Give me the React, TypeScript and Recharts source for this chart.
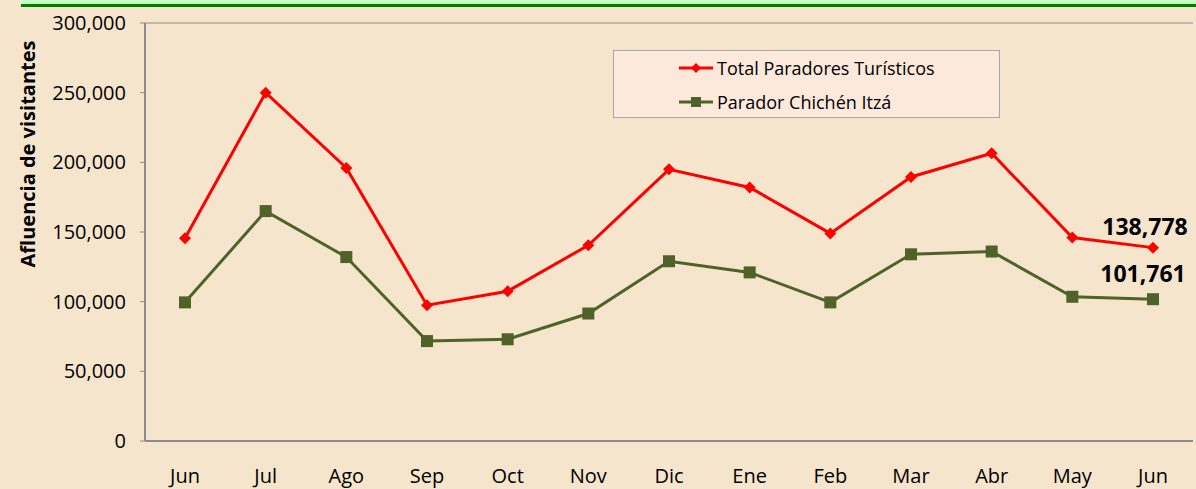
import React from 'react';
import { LineChart, Line, XAxis, YAxis, CartesianGrid, Legend, LabelList } from 'recharts';

const months = ['Jun', 'Jul', 'Ago', 'Sep', 'Oct', 'Nov', 'Dic', 'Ene', 'Feb', 'Mar', 'Abr', 'May', 'Jun'];
const totalParadores = [145500, 250000, 196000, 97500, 107500, 140500, 195000, 182000, 149000, 189500, 206500, 146000, 138778];
const chichenItza = [99500, 165000, 132000, 71700, 73000, 91500, 129000, 121000, 99500, 134000, 136000, 103500, 101761];
const yTicks = [0, 50000, 100000, 150000, 200000, 250000, 300000];
const seriesNames = ['Total Paradores Turísticos', 'Parador Chichén Itzá'];
const yAxisTitle = 'Afluencia de visitantes';

const data = months.map((m, i) => ({ month: m, total: totalParadores[i], chichen: chichenItza[i] }));

const FONT = "'Open Sans', 'Noto Sans', sans-serif";
const RED = '#ff0000';
const GREEN = '#4f6228';

const Diamond = (props: any) => {
  const { cx, cy } = props;
  if (cx == null || cy == null) return null;
  return <polygon points={`${cx},${cy - 6} ${cx + 6},${cy} ${cx},${cy + 6} ${cx - 6},${cy}`} fill={RED} />;
};

const Square = (props: any) => {
  const { cx, cy } = props;
  if (cx == null || cy == null) return null;
  return <rect x={cx - 6} y={cy - 6} width={12} height={12} fill={GREEN} />;
};

const fmt = (v: number) => v.toLocaleString('en-US');

const makeLastLabel = (dx: number, dy: number) => (props: any) => {
  const { x, y, value, index } = props;
  if (index !== data.length - 1) return null;
  return (
    <text x={x + dx} y={y + dy} textAnchor="middle" fontSize={23} fontWeight="bold" fill="#000" fontFamily={FONT}>
      {fmt(value)}
    </text>
  );
};

const YTitle = () => {
  const x = 27;
  const y = 154;
  return (
    <text x={x} y={y} transform={`rotate(-90 ${x} ${y})`} textAnchor="middle" dominantBaseline="central" fontSize={20} fontWeight="bold" fill="#000" fontFamily={FONT}>
      {yAxisTitle}
    </text>
  );
};

const renderLegend = (props: any) => {
  const payload = [...(props.payload || [])].sort(
    (a: any, b: any) => seriesNames.indexOf(a.value) - seriesNames.indexOf(b.value)
  );
  return (
    <div
      style={{
        width: 387,
        height: 68,
        background: '#fde9dc',
        border: '1px solid #a6a6a6',
        boxSizing: 'border-box',
        paddingLeft: 65,
        fontFamily: FONT,
      }}
    >
      {payload.map((entry: any, i: number) => {
        const isTotal = entry.dataKey === 'total';
        const color = entry.color;
        return (
          <div key={i} style={{ display: 'flex', alignItems: 'center', height: 34 }}>
            <svg width={34} height={14} style={{ display: 'block' }}>
              <line x1={0} y1={7} x2={34} y2={7} stroke={color} strokeWidth={3} />
              {isTotal ? (
                <polygon points="17,2 22,7 17,12 12,7" fill={color} />
              ) : (
                <rect x={12} y={2} width={10} height={10} fill={color} />
              )}
            </svg>
            <span style={{ marginLeft: 4, fontSize: 18, color: '#000', whiteSpace: 'nowrap' }}>{entry.value}</span>
          </div>
        );
      })}
    </div>
  );
};

export default function App() {
  return (
    <div
      style={{
        position: 'absolute',
        left: 0,
        top: 0,
        width: 1196,
        height: 489,
        background: '#f6e5cd',
        fontFamily: FONT,
        overflow: 'hidden',
      }}
    >
      <div style={{ position: 'absolute', left: 21, top: 0, width: 1175, height: 4, background: '#c6ffc6' }} />
      <div style={{ position: 'absolute', left: 21, top: 4, width: 1175, height: 3, background: '#008000' }} />
      <LineChart
        width={1196}
        height={489}
        data={data}
        margin={{ top: 23, right: 3, left: 0, bottom: 0 }}
        style={{ fontFamily: FONT }}
      >
        <CartesianGrid horizontal vertical={false} stroke="#8c8c8c" strokeWidth={1} />
        <XAxis
          dataKey="month"
          padding={{ left: 40, right: 40 }}
          height={48}
          tickLine={false}
          tickSize={0}
          tickMargin={28}
          axisLine={{ stroke: '#8c8c8c', strokeWidth: 2 }}
          tick={{ fill: '#000', fontSize: 20 }}
          interval={0}
        />
        <YAxis
          yAxisId="left"
          width={145}
          domain={[0, 300000]}
          ticks={yTicks}
          tickFormatter={fmt}
          tickSize={5}
          tickMargin={14}
          tickLine={{ stroke: '#8c8c8c' }}
          axisLine={{ stroke: '#8c8c8c', strokeWidth: 2 }}
          tick={{ fill: '#000', fontSize: 20 }}
          label={<YTitle />}
        />
        <YAxis
          yAxisId="right"
          orientation="right"
          width={0}
          domain={[0, 300000]}
          tick={false}
          tickLine={false}
          axisLine={{ stroke: '#a6a6a6', strokeWidth: 2 }}
        />
        <Legend
          layout="vertical"
          align="center"
          verticalAlign="middle"
          content={renderLegend}
          wrapperStyle={{ position: 'absolute', left: 613, top: 50, width: 387, height: 68 }}
        />
        <Line
          yAxisId="left"
          type="linear"
          dataKey="total"
          name={seriesNames[0]}
          stroke={RED}
          strokeWidth={3}
          dot={<Diamond />}
          activeDot={false}
          isAnimationActive={false}
        >
          <LabelList dataKey="total" content={makeLastLabel(-8, -13)} />
        </Line>
        <Line
          yAxisId="left"
          type="linear"
          dataKey="chichen"
          name={seriesNames[1]}
          stroke={GREEN}
          strokeWidth={3}
          dot={<Square />}
          activeDot={false}
          isAnimationActive={false}
        >
          <LabelList dataKey="chichen" content={makeLastLabel(-10, -17)} />
        </Line>
      </LineChart>
    </div>
  );
}
